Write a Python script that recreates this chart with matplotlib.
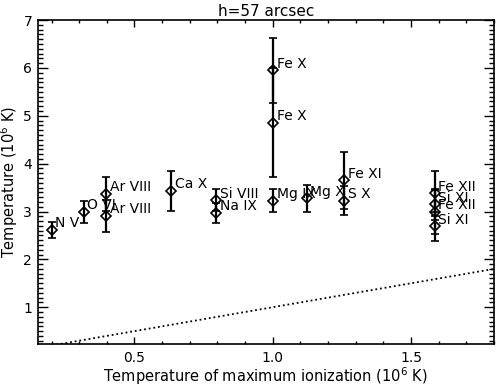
import matplotlib
matplotlib.use("Agg")
import matplotlib.pyplot as plt
from matplotlib.ticker import MultipleLocator, FixedLocator
import numpy as np

# Data
ions = ['N V', 'O VI', 'Ar VIII', 'Ar VIII', 'Ca X', 'Si VIII', 'Na IX',
        'Fe X', 'Fe X', 'Mg IX', 'Mg X', 'Fe XI', 'S X',
        'Fe XII', 'Si XI', 'Fe XII', 'Si XI']
tmax = [0.200, 0.316, 0.398, 0.398, 0.631, 0.794, 0.794,
        1.000, 1.000, 1.000, 1.122, 1.259, 1.259,
        1.585, 1.585, 1.585, 1.585]
temp = [2.62, 3.00, 3.37, 2.91, 3.43, 3.24, 2.97,
        5.95, 4.86, 3.23, 3.28, 3.65, 3.23,
        3.38, 3.15, 2.99, 2.69]
err = [0.17, 0.23, 0.36, 0.33, 0.42, 0.23, 0.21,
       0.68, 1.13, 0.24, 0.28, 0.60, 0.30,
       0.47, 0.32, 0.46, 0.31]
title = 'h=57 arcsec'
x_ticks = [0.5, 1.0, 1.5]
x_ticklabels = ['0.5', '1.0', '1.5']
y_ticks = [1, 2, 3, 4, 5, 6, 7]

plt.rcParams['font.family'] = ['DejaVu Sans']

fig = plt.figure(figsize=(4.96, 3.87), dpi=100)
ax = fig.add_axes([0.076, 0.111, 0.920, 0.837])

ax.errorbar(tmax, temp, yerr=err, fmt='D', mfc='none', mec='black',
            mew=1.2, ms=5.5, ecolor='black', elinewidth=1.6, capsize=3.2,
            capthick=1.4, color='black', zorder=3)

for x, y, s in zip(tmax, temp, ions):
    ax.annotate(s, (x, y), xytext=(2.8, 1.8), textcoords='offset points',
                ha='left', va='baseline', fontsize=10, color='black')

xl = np.array([0.15, 1.8])
ax.plot(xl, xl, color='black', linestyle=(0, (1, 1.6)), lw=1.3)

ax.set_xlim(0.15, 1.8)
ax.set_ylim(0.23, 7.0)

ax.xaxis.set_major_locator(FixedLocator(x_ticks))
ax.set_xticklabels(x_ticklabels)
ax.xaxis.set_minor_locator(MultipleLocator(0.1))
ax.yaxis.set_major_locator(FixedLocator(y_ticks))
ax.yaxis.set_minor_locator(MultipleLocator(0.1))

ax.tick_params(axis='x', which='major', direction='in', length=5, width=1,
               top=True, bottom=True, labelsize=10, pad=5)
ax.tick_params(axis='x', which='minor', direction='in', length=2.5, width=1,
               top=True, bottom=True)
ax.tick_params(axis='y', which='major', direction='in', length=7, width=1,
               left=True, right=True, labelsize=10, pad=4)
ax.tick_params(axis='y', which='minor', direction='in', length=3.5, width=1,
               left=True, right=True)
for sp in ax.spines.values():
    sp.set_linewidth(1.2)

ax.set_xlabel('Temperature of maximum ionization (10$^6$ K)', fontsize=10.5,
              labelpad=0)
ax.set_ylabel('Temperature (10$^6$ K)', fontsize=10.5, labelpad=2)
ax.set_title(title, fontsize=11, pad=3)

fig.savefig('out.png', dpi=100)
